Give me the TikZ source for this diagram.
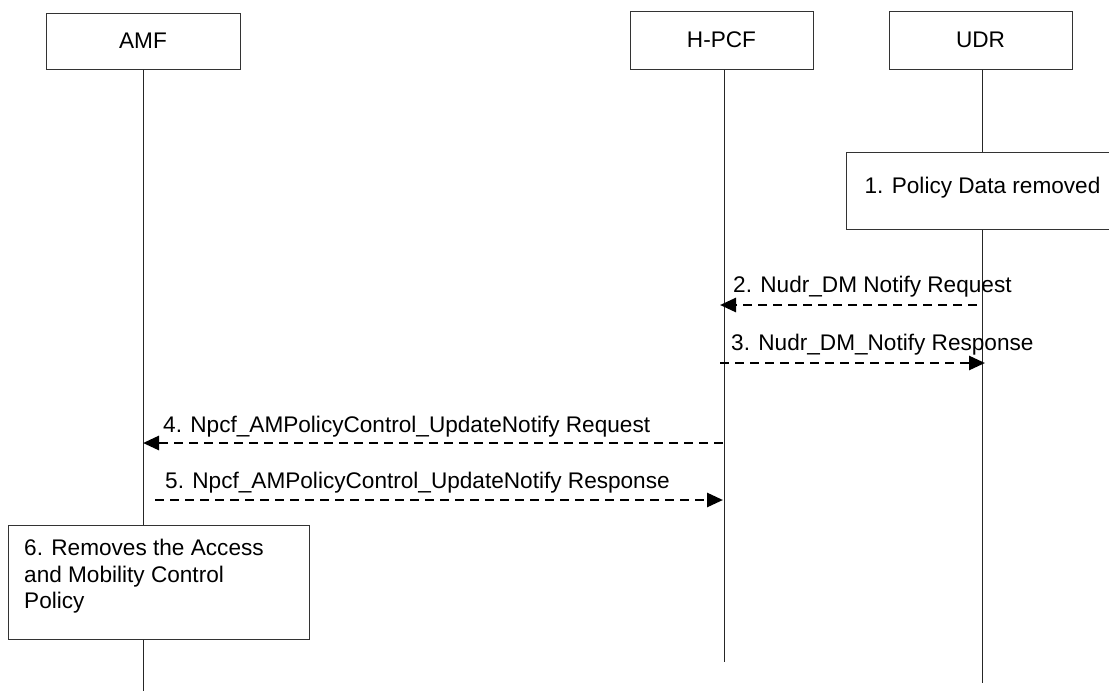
\documentclass[tikz,border=0pt]{standalone}
\usepackage{fontspec}
\setmainfont{Liberation Sans}
\usetikzlibrary{arrows.meta}
\begin{document}
\begin{tikzpicture}[x=1pt,y=-1pt,
  txt/.style={font=\fontsize{22.6}{26.5}\selectfont, text=black, inner sep=0pt},
  entity/.style={txt, draw=black!80, line width=1pt, fill=white},
  actbox/.style={draw=black!80, line width=1pt, fill=white, inner sep=0pt},
  lifeline/.style={draw=black!85, line width=1pt},
  msg/.style={line width=2.7pt, dash pattern=on 9pt off 6pt, -{Triangle[length=16pt,width=14pt]}},
  lbl/.style={txt, anchor=base west}]
\useasboundingbox (0,0) rectangle (1109,691);
\clip (0,0) rectangle (1109,691);
\fill[white] (0,0) rectangle (1109,691);

% entities
\node[entity, minimum width=194pt, minimum height=56pt] (amf) at (143,41) {AMF};
\node[entity, minimum width=183pt, minimum height=58pt] (pcf) at (721.5,40) {H-PCF};
\node[entity, minimum width=183pt, minimum height=58pt] (udr) at (980.5,40) {UDR};

% lifeline ends
\coordinate (amfEnd) at (143,691);
\coordinate (pcfEnd) at (724,662);
\coordinate (udrEnd) at (982,683);
\draw[lifeline] (amf.south) -- (amfEnd);
\draw[lifeline] (pcf.south -| pcfEnd) -- (pcfEnd);
\draw[lifeline] (udr.south -| udrEnd) -- (udrEnd);

% step 1
\node[actbox, txt, minimum width=273pt, minimum height=77pt, text height=11pt, text depth=6pt] (s1) at (982.5,190.5) {1. Policy Data removed};

% message end points
\coordinate (m2a) at (977,305);
\coordinate (m2b) at (720,305);
\coordinate (m3a) at (720,363);
\coordinate (m3b) at (985,363);
\coordinate (m4a) at (723,443);
\coordinate (m4b) at (143,443);
\coordinate (m5a) at (155,500);
\coordinate (m5b) at (723,500);

\draw[msg] (m2a) -- (m2b);
\node[lbl] (l2) at (733,292) {2. Nudr\_DM Notify Request};
\draw[msg] (m3a) -- (m3b);
\node[lbl] (l3) at (731,350) {3. Nudr\_DM\_Notify Response};
\draw[msg] (m4a) -- (m4b);
\node[lbl] (l4) at (163,432) {4. Npcf\_AMPolicyControl\_UpdateNotify Request};
\draw[msg] (m5a) -- (m5b);
\node[lbl] (l5) at (165,488) {5. Npcf\_AMPolicyControl\_UpdateNotify Response};

% step 6
\node[actbox, minimum width=301pt, minimum height=114pt] (s6) at (158.5,582) {};
\node[txt, anchor=north west, align=left] (t6) at (24,539) {6. Removes the Access\\and Mobility Control\\Policy};
\end{tikzpicture}
\end{document}
